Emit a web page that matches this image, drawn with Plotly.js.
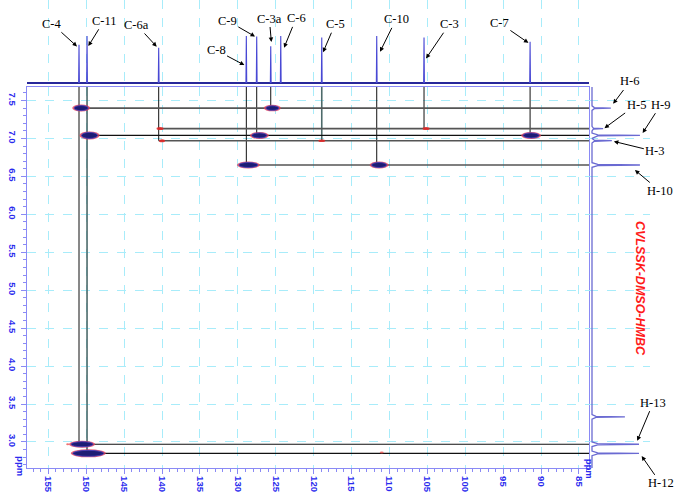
<!DOCTYPE html>
<html>
<head>
<meta charset="utf-8">
<script src="https://cdn.plot.ly/plotly-3.0.1.min.js"></script>
<style>html,body{margin:0;padding:0;background:#fff;}#chart{width:676px;height:495px;}</style>
</head>
<body>
<div id="chart"></div>
<script>
// ---- data ----
const carbonLabels  = ['C-4','C-11','C-6a','C-8','C-9','C-3a','C-6','C-5','C-10','C-3','C-7'];
const carbonShifts  = [150.95,149.89,140.44,128.88,127.51,125.66,124.34,118.93,111.68,105.44,91.45];
const carbonHeights = [79,97,73,97,96,76,97,94,97,94,85];

const protonLabels  = ['H-6','H-5','H-9','H-3','H-10','H-13','H-12'];
const protonShifts  = [7.40,7.13,7.04,6.97,6.65,2.97,2.85];
const protonHeights = [39,23,99,41,99,97,97];
const solventShifts = [3.33];
const solventHeights = [68];

// HMBC correlations drawn with guide lines
const corrCarbon = ['C-4','C-4','C-11','C-11','C-6a','C-6a','C-8','C-9','C-3a','C-5','C-10','C-3','C-7'];
const corrProton = ['H-6','H-13','H-9','H-12','H-5','H-3','H-10','H-9','H-6','H-3','H-10','H-5','H-9'];

// cross peaks (13C ppm, 1H ppm, kind)
const crossC    = [150.66,149.56,140.26,140.00,125.45,127.16,118.93,128.61,111.37,105.17,91.32,150.55,149.72,152.44,111.02];
const crossH    = [7.40,7.04,7.13,6.97,7.40,7.04,6.97,6.65,6.65,7.13,7.04,2.97,2.85,2.97,2.86];
const crossKind = ['s','s','w','w','s','s','w','s','s','w','s','s','s','t','t'];

const xTicks = [155,150,145,140,135,130,125,120,115,110,105,100,95,90,85];
const yTicks = [7.5,7.0,6.5,6.0,5.5,5.0,4.5,4.0,3.5,3.0];

// ---- sizes / styles (not data) ----
const crossWpx = [14,16,7,6,13,15,7,19,15,7,16,22,31,3,4];
const crossHpx = [5,6,3,3,4.5,5,2.5,5,5,3,5,5,6,2,2];
const carbonLabelOff = [[-2,-1.7,-25,-22.7],[1.3,-10,15.7,-25.3],[-2,1,-20,-21.7],[-2,-29,-28.3,-15],
  [-1.7,0,-27.7,-16],[0.6,4.3,-2,-23.4],[3.3,-11.7,12,-29.4],[1.3,-14.7,12,-28],[3.3,-15.7,16,-32.4],
  [2,-21,23.3,-34.3],[-1.7,-1,-29,-20]];
const protonLabelOff = [[2.3,4.3,16.7,-22.3],[1.3,0.4,31.7,-23.3],[2.7,2.4,18.3,-28.3],[2,-0.7,41,10],
  [-5,-5,25,21],[-1.7,3.6,16,-38],[2.7,-2.7,19,27.3]];
const greyH = ['H-6','H-5','H-3','H-10'];
const greyC = ['C-11','C-5'];

const XR = [157.81, 83.68];
const YR = [2.657, 7.678];
const PXX = 7.58, PXY = 75.9;

const cIdx = l => carbonLabels.indexOf(l);
const hIdx = l => protonLabels.indexOf(l);

// top 13C spectrum: baseline + sticks
const stickX = [], stickY = [];
carbonShifts.forEach((s,i)=>{ stickX.push(s+0.05,s,s-0.05,null); stickY.push(0,carbonHeights[i],0,null); });

// right 1H projection
const projPeaks = protonShifts.map((s,i)=>[s,protonHeights[i]]).concat(solventShifts.map((s,i)=>[s,solventHeights[i]]))
  .sort((a,b)=>b[0]-a[0]);
const prX=[0], prY=[YR[1]];
projPeaks.forEach(([s,h])=>{
  prX.push(0,h*0.12,h,h*0.12,0); prY.push(s+0.03,s+0.007,s,s-0.007,s-0.03);
});
prX.push(0); prY.push(YR[0]);

// guide lines
const vBlack={x:[],y:[]}, vGrey={x:[],y:[]}, hBlack={x:[],y:[]}, hGrey={x:[],y:[]};
carbonLabels.forEach(c=>{
  const hs = corrProton.filter((p,k)=>corrCarbon[k]===c).map(p=>protonShifts[hIdx(p)]);
  if(!hs.length) return;
  const t = greyC.includes(c)?vGrey:vBlack;
  const x = carbonShifts[cIdx(c)];
  t.x.push(x,x,null); t.y.push(YR[1],Math.min(...hs),null);
});
protonLabels.forEach(p=>{
  const cs = corrCarbon.filter((c,k)=>corrProton[k]===p).map(c=>carbonShifts[cIdx(c)]);
  if(!cs.length) return;
  const t = greyH.includes(p)?hGrey:hBlack;
  const y = protonShifts[hIdx(p)];
  t.x.push(Math.max(...cs),XR[1],null); t.y.push(y,y,null);
});

const traces = [
  {x:vBlack.x,y:vBlack.y,mode:'lines',line:{color:'#111',width:1},hoverinfo:'skip'},
  {x:vGrey.x,y:vGrey.y,mode:'lines',line:{color:'#4d6b6b',width:1.6},hoverinfo:'skip'},
  {x:hGrey.x,y:hGrey.y,mode:'lines',line:{color:'#555',width:1.6},hoverinfo:'skip'},
  {x:hBlack.x,y:hBlack.y,mode:'lines',line:{color:'#111',width:1.2},hoverinfo:'skip'},
  {x:[XR[0],XR[1]],y:[0,0],xaxis:'x',yaxis:'y3',mode:'lines',line:{color:'#28289a',width:2},hoverinfo:'skip'},
  {x:stickX,y:stickY,xaxis:'x',yaxis:'y3',mode:'lines',line:{color:'#4848d4',width:1.1},hoverinfo:'skip'},
  {x:prX,y:prY,xaxis:'x2',yaxis:'y',mode:'lines',line:{color:'#6a6ad2',width:1.3},hoverinfo:'skip'}
];

// cross peak ellipses
const shapes=[];
crossC.forEach((c,i)=>{
  const w=crossWpx[i]/PXX, h=crossHpx[i]/PXY, y=crossH[i], k=crossKind[i];
  if(k==='s'){
    const w2=(crossWpx[i]+4)/PXX, h2=(crossHpx[i]+2)/PXY;
    shapes.push({type:'circle',xref:'x',yref:'y',x0:c+w2/2,x1:c-w2/2,y0:y-h2/2,y1:y+h2/2,fillcolor:'rgba(225,60,85,0.8)',line:{width:0}});
    shapes.push({type:'circle',xref:'x',yref:'y',x0:c+w/2,x1:c-w/2,y0:y-h/2,y1:y+h/2,fillcolor:'#1d1d74',line:{color:'#4040c0',width:0.8}});
  } else {
    shapes.push({type:'circle',xref:'x',yref:'y',x0:c+w/2,x1:c-w/2,y0:y-h/2,y1:y+h/2,fillcolor:k==='w'?'rgba(225,40,40,0.9)':'rgba(235,80,80,0.8)',line:{width:0}});
  }
});

const serif={family:'Liberation Serif, Times New Roman, serif',size:12.5,color:'#000'};
const annotations=[];
carbonLabels.forEach((l,i)=>{
  const o=carbonLabelOff[i];
  annotations.push({x:carbonShifts[i],y:carbonHeights[i],xref:'x',yref:'y3',text:l,showarrow:true,
    xshift:o[0],yshift:o[1],ax:o[2],ay:o[3],arrowhead:2,arrowsize:0.9,arrowwidth:1,arrowcolor:'#000',font:serif});
});
protonLabels.forEach((l,i)=>{
  const o=protonLabelOff[i];
  annotations.push({x:protonHeights[i],y:protonShifts[i],xref:'x2',yref:'y',text:l,showarrow:true,
    xshift:o[0],yshift:o[1],ax:o[2],ay:o[3],arrowhead:2,arrowsize:0.9,arrowwidth:1,arrowcolor:'#000',font:serif});
});
const tickFont={family:'Liberation Sans, Arial, sans-serif',size:9.5,color:'#2a2aee',weight:'bold'};
annotations.push({xref:'paper',yref:'paper',x:0.8783,y:-0.026,text:'ppm',showarrow:false,textangle:90,font:tickFont});
annotations.push({xref:'paper',yref:'paper',x:-0.022,y:-0.022,text:'ppm',showarrow:false,textangle:90,font:tickFont});
annotations.push({xref:'paper',yref:'paper',x:0.9584,y:0.3846,text:'CVLSSK-DMSO-HMBC',showarrow:false,textangle:90,
  font:{family:'Liberation Sans, Arial, sans-serif',size:12.5,color:'#ff1a1a',weight:'bold',style:'italic'}});

const axisLine='#8a8af5', gridC='#a8ecfa';
const layout={
  width:676,height:495,margin:{l:27,r:0,t:0,b:27},
  paper_bgcolor:'#fff',plot_bgcolor:'#fff',showlegend:false,
  xaxis:{domain:[0,0.86595],range:XR,anchor:'y',tickvals:xTicks,ticktext:xTicks.map(String),tickangle:90,
    ticks:'outside',ticklen:5,tickcolor:axisLine,tickfont:tickFont,showline:true,linecolor:axisLine,linewidth:1.2,mirror:true,
    showgrid:true,gridcolor:gridC,griddash:'dash',gridwidth:1,zeroline:false,
    minor:{dtick:1,ticklen:2.5,tickcolor:axisLine,ticks:'outside',showgrid:false}},
  yaxis:{domain:[0,0.8141],range:YR,anchor:'x',tickvals:yTicks,ticktext:yTicks.map(v=>v.toFixed(1)),tickangle:90,
    ticks:'outside',ticklen:5,tickcolor:axisLine,tickfont:tickFont,showline:true,linecolor:axisLine,linewidth:1.2,mirror:true,
    showgrid:true,gridcolor:gridC,griddash:'dash',gridwidth:1,zeroline:false,
    minor:{dtick:0.1,ticklen:2.5,tickcolor:axisLine,ticks:'outside',showgrid:false}},
  xaxis2:{domain:[0.86595,0.95994],range:[-6.2,119.8],anchor:'y',visible:false},
  yaxis3:{domain:[0.8141,1],range:[-8.26,171.5],anchor:'x',visible:false},
  shapes:shapes,annotations:annotations
};
Plotly.newPlot('chart',traces,layout,{staticPlot:true,displayModeBar:false});
</script>
</body>
</html>
